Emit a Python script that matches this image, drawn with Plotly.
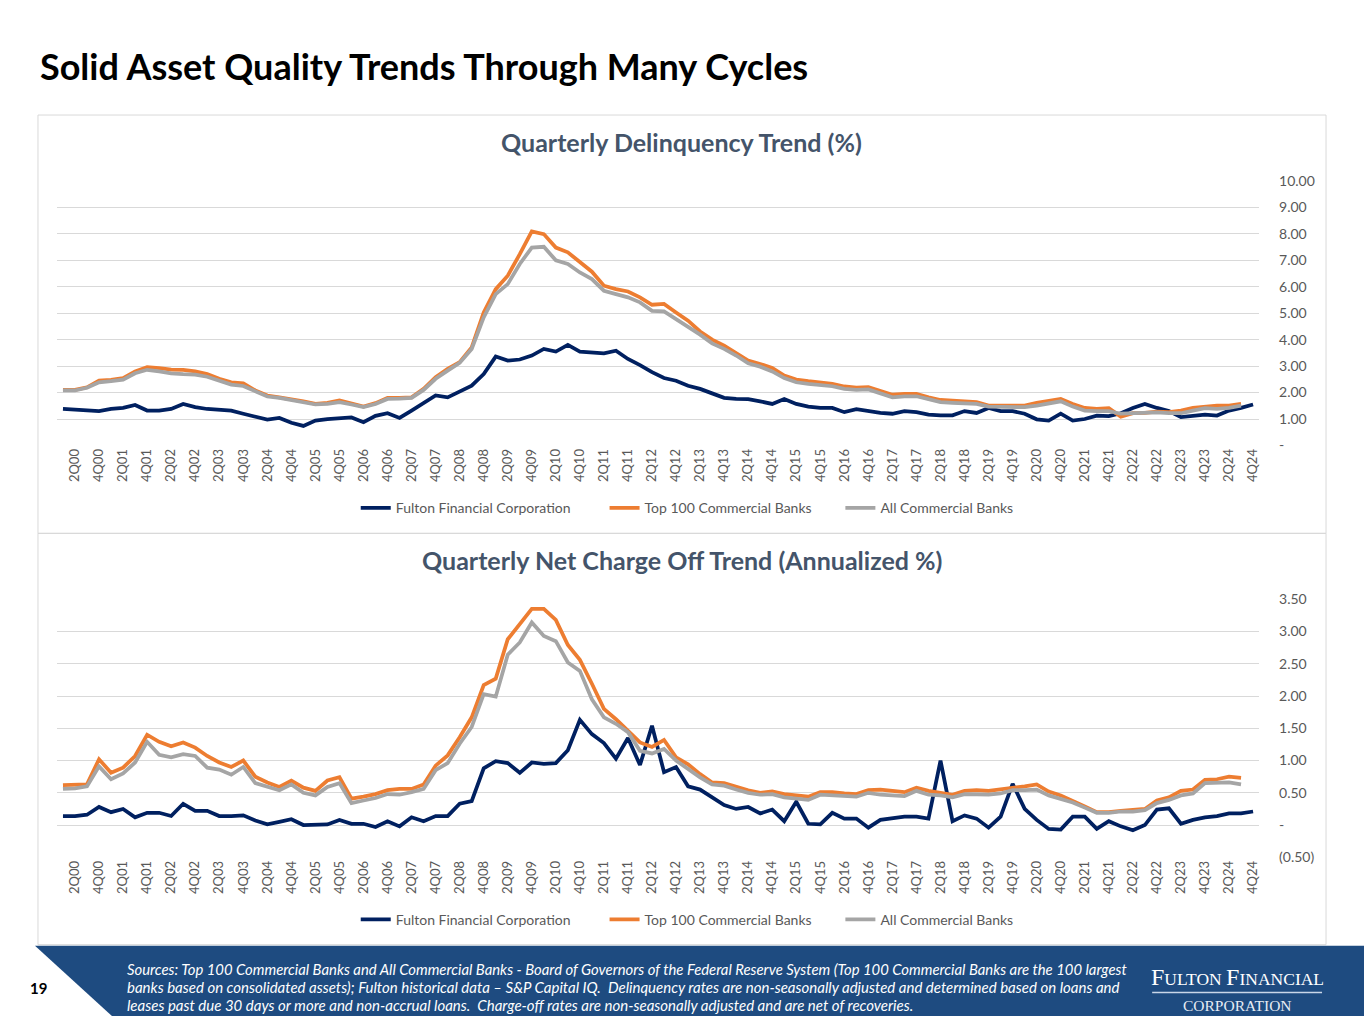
import plotly.graph_objects as go

# ---------------- data ----------------
quarters = [f"{q}Q{y:02d}" for y in range(0, 25) for q in range(1, 5)]
tick_labels = quarters[1::2]

fulton_dq = [1.38, 1.35, 1.30, 1.30, 1.38, 1.42, 1.53, 1.32, 1.32, 1.38,
             1.57, 1.45, 1.38, 1.36, 1.32, 1.20, 1.09, 0.98, 1.04, 0.86,
             0.74, 0.94, 1.00, 1.03, 1.06, 0.88, 1.12, 1.22, 1.04, 1.32,
             1.61, 1.89, 1.82, 2.03, 2.26, 2.70, 3.36, 3.21, 3.25, 3.40,
             3.65, 3.55, 3.80, 3.55, 3.52, 3.48, 3.58, 3.27, 3.04, 2.77,
             2.55, 2.45, 2.26, 2.14, 1.97, 1.80, 1.76, 1.75, 1.67, 1.57,
             1.76, 1.57, 1.47, 1.42, 1.42, 1.26, 1.37, 1.29, 1.23, 1.20,
             1.30, 1.26, 1.17, 1.14, 1.14, 1.30, 1.23, 1.42, 1.30, 1.30,
             1.20, 0.99, 0.94, 1.20, 0.94, 1.00, 1.13, 1.11, 1.22, 1.42,
             1.57, 1.42, 1.30, 1.07, 1.11, 1.17, 1.13, 1.32, 1.42, 1.55]

top100_dq = [2.10, 2.10, 2.20, 2.45, 2.48, 2.55, 2.80, 2.96, 2.92, 2.87,
             2.86, 2.80, 2.70, 2.52, 2.39, 2.35, 2.08, 1.89, 1.82, 1.76,
             1.67, 1.57, 1.61, 1.70, 1.57, 1.47, 1.60, 1.80, 1.80, 1.82,
             2.14, 2.58, 2.90, 3.15, 3.71, 5.03, 5.91, 6.42, 7.23, 8.09,
             7.99, 7.48, 7.30, 6.92, 6.57, 6.04, 5.91, 5.82, 5.60, 5.32,
             5.35, 5.03, 4.72, 4.31, 4.00, 3.77, 3.48, 3.21, 3.08, 2.93,
             2.64, 2.49, 2.43, 2.39, 2.33, 2.23, 2.19, 2.21, 2.07, 1.92,
             1.95, 1.95, 1.82, 1.72, 1.70, 1.67, 1.64, 1.51, 1.51, 1.51,
             1.51, 1.61, 1.70, 1.76, 1.57, 1.42, 1.38, 1.41, 1.09, 1.22,
             1.23, 1.28, 1.26, 1.32, 1.42, 1.48, 1.51, 1.51, 1.57, None]

all_dq = [2.08, 2.08, 2.18, 2.39, 2.43, 2.49, 2.73, 2.86, 2.80, 2.73,
          2.70, 2.68, 2.60, 2.45, 2.30, 2.25, 2.04, 1.85, 1.80, 1.72,
          1.64, 1.55, 1.57, 1.64, 1.55, 1.45, 1.57, 1.76, 1.77, 1.80,
          2.10, 2.52, 2.83, 3.12, 3.65, 4.84, 5.72, 6.10, 6.86, 7.48,
          7.51, 7.00, 6.86, 6.54, 6.29, 5.85, 5.72, 5.60, 5.41, 5.09,
          5.07, 4.78, 4.50, 4.19, 3.86, 3.65, 3.40, 3.11, 2.98, 2.80,
          2.55, 2.39, 2.33, 2.30, 2.24, 2.14, 2.10, 2.12, 1.98, 1.82,
          1.86, 1.86, 1.75, 1.64, 1.61, 1.60, 1.57, 1.47, 1.47, 1.45,
          1.45, 1.51, 1.60, 1.67, 1.47, 1.32, 1.30, 1.30, 1.20, 1.22,
          1.22, 1.25, 1.22, 1.22, 1.32, 1.41, 1.38, 1.42, 1.51, None]

fulton_nco = [0.14, 0.14, 0.16, 0.28, 0.20, 0.25, 0.12, 0.19, 0.19, 0.14,
              0.33, 0.22, 0.22, 0.14, 0.14, 0.15, 0.07, 0.01, 0.05, 0.09,
              0.00, 0.01, 0.01, 0.08, 0.02, 0.02, -0.03, 0.06, -0.02, 0.12,
              0.06, 0.14, 0.14, 0.33, 0.37, 0.88, 0.99, 0.96, 0.81, 0.97,
              0.95, 0.96, 1.16, 1.63, 1.41, 1.27, 1.03, 1.35, 0.93, 1.54,
              0.82, 0.90, 0.60, 0.55, 0.43, 0.31, 0.25, 0.28, 0.18, 0.24,
              0.06, 0.36, 0.02, 0.01, 0.19, 0.10, 0.10, -0.04, 0.08, 0.11,
              0.13, 0.13, 0.10, 1.00, 0.06, 0.15, 0.10, -0.04, 0.13, 0.64,
              0.25, 0.08, -0.06, -0.07, 0.13, 0.13, -0.06, 0.06, -0.02, -0.08,
              0.00, 0.24, 0.26, 0.02, 0.08, 0.12, 0.14, 0.18, 0.18, 0.21]

top100_nco = [0.62, 0.62, 0.63, 1.02, 0.81, 0.89, 1.07, 1.40, 1.29, 1.22,
              1.28, 1.20, 1.07, 0.97, 0.90, 1.00, 0.75, 0.66, 0.59, 0.69,
              0.58, 0.53, 0.69, 0.74, 0.41, 0.44, 0.48, 0.54, 0.56, 0.56,
              0.63, 0.92, 1.08, 1.36, 1.67, 2.17, 2.27, 2.88, 3.12, 3.35,
              3.35, 3.18, 2.79, 2.56, 2.19, 1.80, 1.64, 1.46, 1.28, 1.21,
              1.32, 1.05, 0.94, 0.79, 0.66, 0.65, 0.59, 0.54, 0.50, 0.52,
              0.48, 0.46, 0.44, 0.51, 0.51, 0.49, 0.48, 0.54, 0.55, 0.53,
              0.51, 0.58, 0.53, 0.50, 0.47, 0.53, 0.54, 0.53, 0.55, 0.58,
              0.60, 0.63, 0.52, 0.46, 0.38, 0.29, 0.20, 0.20, 0.22, 0.23,
              0.25, 0.38, 0.43, 0.53, 0.55, 0.70, 0.71, 0.75, 0.73, None]

all_nco = [0.56, 0.57, 0.60, 0.91, 0.71, 0.80, 0.97, 1.29, 1.09, 1.05,
           1.10, 1.07, 0.89, 0.86, 0.78, 0.90, 0.65, 0.59, 0.54, 0.63,
           0.50, 0.46, 0.59, 0.65, 0.34, 0.38, 0.42, 0.48, 0.47, 0.51,
           0.56, 0.85, 0.96, 1.26, 1.52, 2.03, 1.99, 2.64, 2.83, 3.14,
           2.93, 2.85, 2.52, 2.39, 1.95, 1.67, 1.57, 1.44, 1.15, 1.11,
           1.18, 1.00, 0.87, 0.74, 0.63, 0.61, 0.55, 0.50, 0.47, 0.48,
           0.43, 0.41, 0.39, 0.47, 0.46, 0.44, 0.44, 0.50, 0.47, 0.46,
           0.45, 0.53, 0.47, 0.46, 0.43, 0.48, 0.48, 0.47, 0.49, 0.54,
           0.54, 0.55, 0.46, 0.41, 0.35, 0.27, 0.19, 0.19, 0.21, 0.21,
           0.23, 0.34, 0.39, 0.46, 0.49, 0.65, 0.65, 0.66, 0.63, None]

dq_ticks = [0, 1, 2, 3, 4, 5, 6, 7, 8, 9, 10]
dq_ticktext = ["-", "1.00", "2.00", "3.00", "4.00", "5.00", "6.00", "7.00", "8.00", "9.00", "10.00"]
nco_ticks = [-0.5, 0, 0.5, 1.0, 1.5, 2.0, 2.5, 3.0, 3.5]
nco_ticktext = ["(0.50)", "-", "0.50", "1.00", "1.50", "2.00", "2.50", "3.00", "3.50"]

series_names = ["Fulton Financial Corporation", "Top 100 Commercial Banks", "All Commercial Banks"]
series_colors = ["#002060", "#ED7D31", "#A5A5A5"]

# ---------------- layout helpers ----------------
# Target positions are given in window pixels; the vertical mapping compensates
# for the slight vertical squeeze observed in the captured page.
W, H = 1365, 1024
VSCALE, VOFF = 0.985, 7.8
def px(x):
    return x / W
def py(y):
    return 1 - ((y - VOFF) / VSCALE) / H

FONT = "Lato"
TICKC = "#595959"
BLUE = "#1E4B80"
LW = 3.75

fig = go.Figure()

legend_x = [356, 605, 841]
top_legends = ["legend", "legend2", "legend3"]
bot_legends = ["legend4", "legend5", "legend6"]

for name, color, vals, lg in zip(series_names, series_colors, [fulton_dq, top100_dq, all_dq], top_legends):
    fig.add_trace(go.Scatter(x=quarters, y=vals, name=name, mode="lines",
                             line=dict(color=color, width=LW), xaxis="x", yaxis="y",
                             legend=lg, connectgaps=False))
for name, color, vals, lg in zip(series_names, series_colors, [fulton_nco, top100_nco, all_nco], bot_legends):
    fig.add_trace(go.Scatter(x=quarters, y=vals, name=name, mode="lines",
                             line=dict(color=color, width=LW), xaxis="x2", yaxis="y2",
                             legend=lg, connectgaps=False))

xcommon = dict(type="category", categoryorder="array", categoryarray=quarters,
               range=[-0.5, len(quarters) - 0.5], tickmode="array", tickvals=tick_labels,
               ticktext=tick_labels, tickangle=-90, showgrid=False, zeroline=False,
               showline=False, ticks="", tickfont=dict(family=FONT, size=13, color=TICKC),
               fixedrange=True, domain=[px(57), px(1260)])
ycommon = dict(side="right", showgrid=True, gridcolor="#D9D9D9", gridwidth=1, zeroline=False,
               showline=False, ticks="", tickfont=dict(family=FONT, size=14, color=TICKC),
               ticklabelstandoff=19, fixedrange=True)

def legend_at(x, y):
    return dict(orientation="h", x=px(x), xanchor="left", y=py(y), yanchor="middle",
                font=dict(family=FONT, size=14, color=TICKC), bgcolor="rgba(0,0,0,0)",
                itemwidth=30, tracegroupgap=0)

legends = {}
for lg, lx in zip(top_legends, legend_x):
    legends[lg] = legend_at(lx, 508)
for lg, lx in zip(bot_legends, legend_x):
    legends[lg] = legend_at(lx, 920)

fig.update_layout(
    width=W, height=H, autosize=False,
    margin=dict(l=0, r=0, t=0, b=0),
    paper_bgcolor="white", plot_bgcolor="white",
    xaxis=dict(**xcommon, anchor="y"),
    yaxis=dict(**ycommon, anchor="x", range=[0, 10], tickvals=dq_ticks, ticktext=dq_ticktext,
               domain=[py(445), py(180)]),
    xaxis2=dict(**xcommon, anchor="y2"),
    yaxis2=dict(**ycommon, anchor="x2", range=[-0.5, 3.5], tickvals=nco_ticks, ticktext=nco_ticktext,
                domain=[py(857.5), py(599)]),
    showlegend=True,
    **legends,
)

shapes = []
shapes.append(dict(type="rect", xref="paper", yref="paper", x0=px(38), x1=px(1327), y0=py(533), y1=py(114),
                   line=dict(color="#D9D9D9", width=1), fillcolor="rgba(0,0,0,0)", layer="below"))
shapes.append(dict(type="rect", xref="paper", yref="paper", x0=px(38), x1=px(1327), y0=py(945), y1=py(533),
                   line=dict(color="#D9D9D9", width=1), fillcolor="rgba(0,0,0,0)", layer="below"))
shapes.append(dict(type="path", xref="paper", yref="paper",
                   path=f"M {px(35)} {py(946)} L 1 {py(946)} L 1 0 L {px(112)} 0 Z",
                   fillcolor=BLUE, line=dict(width=0), layer="above"))
shapes.append(dict(type="line", xref="paper", yref="paper", x0=px(1153), x1=px(1323), y0=py(993), y1=py(993),
                   line=dict(color="#C9D6E8", width=1.5), layer="above"))

annotations = []
annotations.append(dict(text="<b>Solid Asset Quality Trends Through Many Cycles</b>", xref="paper", yref="paper",
                        x=px(38), y=py(65), xanchor="left", yanchor="middle", showarrow=False,
                        font=dict(family=FONT, size=36, color="#000000")))
annotations.append(dict(text="<b>Quarterly Delinquency Trend (%)</b>", xref="paper", yref="paper",
                        x=px(682), y=py(141), xanchor="center", yanchor="middle", showarrow=False,
                        font=dict(family=FONT, size=25, color="#44546A")))
annotations.append(dict(text="<b>Quarterly Net Charge Off Trend (Annualized %)</b>", xref="paper", yref="paper",
                        x=px(682), y=py(560), xanchor="center", yanchor="middle", showarrow=False,
                        font=dict(family=FONT, size=25, color="#44546A")))
annotations.append(dict(text="<b>19</b>", xref="paper", yref="paper", x=px(28), y=py(988),
                        xanchor="left", yanchor="middle", showarrow=False,
                        font=dict(family=FONT, size=15, color="#000000")))
footer_lines = [
    "Sources: Top 100 Commercial Banks and All Commercial Banks - Board of Governors of the Federal Reserve System (Top 100 Commercial Banks are the 100 largest",
    "banks based on consolidated assets); Fulton historical data \u2013 S&P Capital IQ.  Delinquency rates are non-seasonally adjusted and determined based on loans and",
    "leases past due 30 days or more and non-accrual loans.  Charge-off rates are non-seasonally adjusted and are net of recoveries.",
]
footer_sizes = [14.85, 15.0, 15.0]
for i, (line, fs) in enumerate(zip(footer_lines, footer_sizes)):
    annotations.append(dict(text=f"<i>{line}</i>", xref="paper", yref="paper", x=px(125), y=py(969 + 18 * i),
                            xanchor="left", yanchor="middle", showarrow=False,
                            font=dict(family=FONT, size=fs, color="#FFFFFF")))
annotations.append(dict(text="<span style='font-size:24px'>F</span>ULTON <span style='font-size:24px'>F</span>INANCIAL",
                        xref="paper", yref="paper", x=px(1238), y=py(977), xanchor="center", yanchor="middle",
                        showarrow=False, font=dict(family="Liberation Serif", size=17.5, color="#FFFFFF")))
annotations.append(dict(text="CORPORATION", xref="paper", yref="paper", x=px(1238), y=py(1006),
                        xanchor="center", yanchor="middle", showarrow=False,
                        font=dict(family="Liberation Serif", size=15.5, color="#E6ECF4")))

fig.update_layout(shapes=shapes, annotations=annotations)

post = """
var gd = document.getElementById('{plot_id}');
var el = gd;
while (el) { if (el.style) { el.style.margin = '0'; el.style.padding = '0'; } el = el.parentElement; }
gd.style.display = 'block';
document.documentElement.style.overflow = 'hidden';
document.body.style.overflow = 'hidden';
document.documentElement.style.background =
  'linear-gradient(#ffffff, #ffffff) 0 0 / 112px 100% repeat-y, ' +
  'linear-gradient(to bottom, BLUECOL 0px, BLUECOL 14px, #ffffff 14px, #ffffff 100%) 0 0 / 100% 100% repeat-y';
""".replace("BLUECOL", BLUE)
fig.write_html("out.html", include_plotlyjs=True, config={"displayModeBar": False, "staticPlot": True},
               post_script=post)
